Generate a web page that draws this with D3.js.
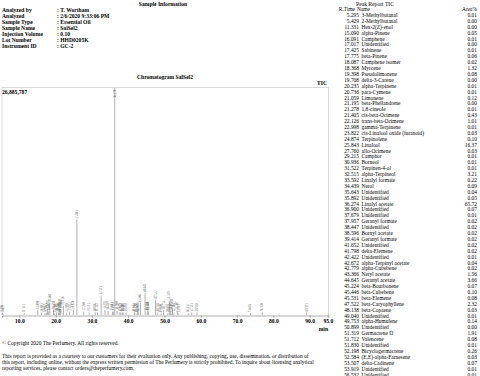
<!DOCTYPE html>
<html>
<head>
<meta charset="utf-8">
<script src="https://cdn.jsdelivr.net/npm/d3@7"></script>
<style>
  body { margin: 0; background: #fff; }
  svg { font-family: "Liberation Serif", "Times New Roman", serif; }
</style>
</head>
<body>
<div id="report"></div>
<script>
// sample info
const infoLabels = ["Analyzed by", "Analyzed", "Sample Type", "Sample Name", "Injection Volume", "Lot Number", "Instrument ID"];
const infoValues = [": T. Wortham", ": 2/6/2020 9:33:06 PM", ": Essential Oil", ": SalSel2", ": 0.10", ": HHD0205K", ": GC-2"];

// peak table (retention time, name, area%)
const rTimes = [5.295, 5.429, 11.331, 15.090, 16.091, 17.017, 17.425, 17.775, 18.087, 18.368,
  19.398, 19.708, 20.235, 20.736, 21.059, 21.195, 21.278, 21.405, 22.126, 22.998,
  23.822, 24.874, 25.843, 27.760, 29.215, 30.936, 31.522, 32.515, 33.592, 34.439,
  35.643, 35.892, 36.274, 36.900, 37.679, 37.957, 38.447, 38.596, 39.414, 41.652,
  41.798, 42.422, 42.672, 42.779, 43.366, 44.645, 45.224, 45.446, 45.531, 47.522,
  48.138, 49.040, 49.753, 50.899, 51.319, 51.712, 51.830, 52.198, 52.584, 53.507,
  53.919, 56.532];
const peakNames = ["3-Methylbutanal", "2-Methylbutanal", "Hex-2(Z)-enol", "alpha-Pinene", "Camphene",
  "Unidentified", "Sabinene", "beta-Pinene", "Camphene isomer", "Myrcene",
  "Pseudolimonene", "delta-3-Carene", "alpha-Terpinene", "para-Cymene", "Limonene",
  "beta-Phellandrene", "1,8-cineole", "cis-beta-Ocimene", "trans-beta-Ocimene", "gamma-Terpinene",
  "cis-Linalool oxide (furanoid)", "Terpinolene", "Linalool", "allo-Ocimene", "Camphor",
  "Borneol", "Terpinen-4-ol", "alpha-Terpineol", "Linalyl formate", "Nerol",
  "Unidentified", "Unidentified", "Linalyl acetate", "Unidentified", "Unidentified",
  "Geranyl formate", "Unidentified", "Bornyl acetate", "Geranyl formate", "Unidentified",
  "delta-Elemene", "Unidentified", "alpha-Terpinyl acetate", "alpha-Cubebene", "Neryl acetate",
  "Geranyl acetate", "beta-Bourbonene", "beta-Cubebene", "beta-Elemene", "beta-Caryophyllene",
  "beta-Copaene", "Unidentified", "alpha-Humulene", "Unidentified", "Germacrene D",
  "Valencene", "Unidentified", "Bicyclogermacrene", "(E,E)-alpha-Farnesene", "delta-Cadinene",
  "Unidentified", "Unidentified"];
const areaPct = ["0.01", "0.00", "0.00", "0.05", "0.01", "0.00", "0.01", "0.06", "0.02", "1.32",
  "0.08", "0.00", "0.01", "0.01", "0.12", "0.00", "0.01", "0.43", "1.01", "0.01",
  "0.03", "0.10", "16.37", "0.03", "0.01", "0.01", "0.01", "3.21", "0.22", "0.09",
  "0.04", "0.05", "65.72", "0.07", "0.01", "0.02", "0.02", "0.02", "0.02", "0.02",
  "0.02", "0.01", "0.04", "0.02", "1.56", "3.66", "0.07", "0.10", "0.08", "2.32",
  "0.03", "0.01", "0.14", "0.00", "1.91", "0.08", "0.01", "0.26", "0.03", "0.07",
  "0.01", "0.01"];

// chromatogram peaks (intensity, counts) - later peaks are beyond the printed table
const extraTimes = [57.513, 58.958, 73.683, 76.950, 89.171];
const peakHeights = [300000, 200000, 200000, 600000, 300000, 200000, 300000, 700000, 400000, 1400000,
  600000, 200000, 300000, 300000, 800000, 200000, 300000, 700000, 1100000, 300000,
  400000, 600000, 11300000, 400000, 300000, 300000, 300000, 2300000, 600000, 500000,
  400000, 400000, 26885787, 500000, 300000, 300000, 300000, 300000, 300000, 300000,
  300000, 200000, 400000, 300000, 1400000, 2600000, 400000, 500000, 400000, 1800000,
  300000, 200000, 600000, 200000, 1700000, 500000, 200000, 800000, 300000, 500000,
  200000, 200000,
  300000, 300000, 200000, 300000, 300000];
const xTicks = [10, 20, 30, 40, 50, 60, 70, 80, 90, 95];
const maxIntensity = 26885787;

const footerCopy = "\u00A9 Copyright 2020 The Perfumery. All rights reserved.";
const footerLines = [
  "This report is provided as a courtesy to our customers for their evaluation only. Any publishing, copying, use, dissemination, or distribution of",
  "this report, including online, without the express written permission of The Perfumery is strictly prohibited. To inquire about licensing analytical",
  "reporting services, please contact orders@theperfumery.com."
];

const width = 480, height = 376;
const svg = d3.select("#report").append("svg")
  .attr("width", width)
  .attr("height", height);

// header
svg.append("text")
  .attr("x", 163).attr("y", 6)
  .attr("text-anchor", "middle")
  .style("font-size", "5.6px").style("font-weight", "bold")
  .text("Sample Information");

const info = svg.append("g").style("font-size", "5.6px").style("font-weight", "bold");
infoLabels.forEach((lab, i) => {
  const yy = 12 + i * 6;
  info.append("text").attr("x", 2).attr("y", yy).text(lab);
  info.append("text").attr("x", 57).attr("y", yy).text(infoValues[i]);
});

// chromatogram
const allTimes = rTimes.concat(extraTimes);
const x = d3.scaleLinear().domain([5.2, 95.2]).range([2, 328.5]);
const y = d3.scaleLinear().domain([0, maxIntensity]).range([315, 88]);

svg.append("text")
  .attr("x", 165).attr("y", 79)
  .attr("text-anchor", "middle")
  .style("font-size", "5.6px").style("font-weight", "bold")
  .text("Chromatogram SalSel2");

svg.append("text")
  .attr("x", 327).attr("y", 85)
  .attr("text-anchor", "end")
  .style("font-size", "5.6px").style("font-weight", "bold")
  .text("TIC");

const frame = svg.append("g").attr("stroke", "#d0d0d0").attr("stroke-width", 0.8);
frame.append("line").attr("x1", 2).attr("x2", 328.5).attr("y1", 87.5).attr("y2", 87.5);
frame.append("line").attr("x1", 2).attr("x2", 2).attr("y1", 87.5).attr("y2", 315.5);
frame.append("line").attr("x1", 328.5).attr("x2", 328.5).attr("y1", 87.5).attr("y2", 315.5);

svg.append("text")
  .attr("x", 2).attr("y", 94)
  .style("font-size", "5.6px").style("font-weight", "bold")
  .text(d3.format(",")(maxIntensity));

const peaks = allTimes.map((t, i) => ({ t, h: peakHeights[i] }));

svg.append("g").selectAll("line")
  .data(peaks)
  .enter()
  .append("line")
  .attr("x1", d => x(d.t)).attr("x2", d => x(d.t))
  .attr("y1", y(0)).attr("y2", d => y(d.h))
  .attr("stroke", "#b0b0b0")
  .attr("stroke-width", 1);

svg.append("g").selectAll("text")
  .data(peaks)
  .enter()
  .append("text")
  .attr("transform", d => `translate(${x(d.t) + 1},${Math.max(y(d.h) - 1, 98)}) rotate(-90)`)
  .style("font-size", "3px")
  .style("fill", "#666")
  .text(d => d.t.toFixed(3));

const xAxis = d3.axisBottom(x)
  .tickValues(xTicks)
  .tickFormat(d3.format(".1f"))
  .tickSize(2)
  .tickPadding(2);

const axisG = svg.append("g")
  .attr("transform", `translate(0,315.5)`)
  .call(xAxis);
axisG.select(".domain").attr("stroke", "#999").attr("stroke-width", 0.8);
axisG.selectAll(".tick line").attr("stroke", "#999");
axisG.selectAll(".tick text")
  .style("font-family", "Liberation Serif, serif")
  .style("font-size", "5.6px").style("font-weight", "bold").attr("fill", "#000");

svg.append("text")
  .attr("x", 328).attr("y", 331)
  .attr("text-anchor", "end")
  .style("font-size", "5.6px").style("font-weight", "bold")
  .text("min");

// footer
svg.append("text")
  .attr("x", 2).attr("y", 345)
  .style("font-size", "5.4px")
  .text(footerCopy);

svg.append("g").selectAll("text")
  .data(footerLines)
  .enter()
  .append("text")
  .attr("x", 2)
  .attr("y", (d, i) => 358 + i * 6)
  .style("font-size", "5.4px")
  .text(d => d);

// peak table
svg.append("text")
  .attr("x", 375).attr("y", 6)
  .attr("text-anchor", "middle")
  .style("font-size", "5.6px")
  .text("Peak Report TIC");

const tbl = svg.append("g").style("font-size", "5.4px");
tbl.append("text").attr("x", 355).attr("y", 11).attr("text-anchor", "end").text("R.Time");
tbl.append("text").attr("x", 357).attr("y", 11).text("Name");
tbl.append("text").attr("x", 477).attr("y", 11).attr("text-anchor", "end").text("Area%");

const rowY = d3.scaleLinear().domain([0, rTimes.length - 1]).range([17, 376.5]);

const rows = tbl.selectAll(".row")
  .data(rTimes)
  .enter()
  .append("g")
  .attr("class", "row")
  .attr("transform", (d, i) => `translate(0,${rowY(i)})`);

rows.append("text").attr("x", 359).attr("text-anchor", "end").text(d => d.toFixed(3));
rows.append("text").attr("x", 361.5).text((d, i) => peakNames[i]);
rows.append("text").attr("x", 477).attr("text-anchor", "end").text((d, i) => areaPct[i]);
</script>
</body>
</html>
